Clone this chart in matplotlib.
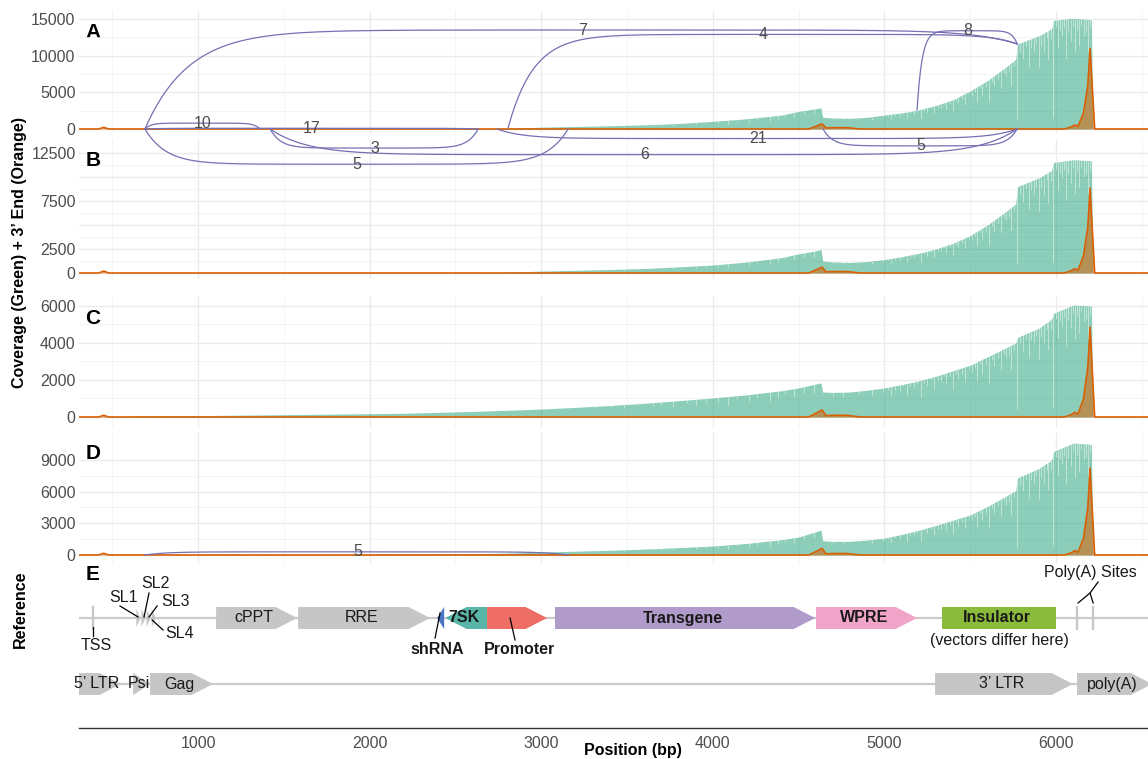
"""Stacked coverage tracks (A-D) with splice-junction arcs over a vector map (E)."""

import numpy as np
import matplotlib

matplotlib.use("Agg")
import matplotlib.pyplot as plt  # noqa: E402
from matplotlib.patches import Polygon  # noqa: E402
from matplotlib.ticker import MultipleLocator  # noqa: E402

plt.rcParams["font.family"] = ["Liberation Sans", "DejaVu Sans"]

W, H = 1148, 759
X_LEFT_PX, X_RIGHT_PX = 79, 1187
XLIM = (306, 6763)

GREEN = "#1B9E77"
ORANGE = "#D95F02"
ARC_COLOR = "#7570B3"
TXT = "#4D4D4D"
GREY = "#C6C6C6"
LINE_GREY = "#CFCACA"

# ---- coverage (green), shared positions ----
POS = [300, 2200, 2600, 2700, 2800, 3000, 3200, 3400, 3600, 3800,
       4000, 4200, 4400, 4500, 4600, 4630, 4640, 4700, 4800, 4900,
       5000, 5100, 5200, 5300, 5400, 5500, 5600, 5700, 5765, 5775,
       5900, 5975, 5985, 6100, 6200, 6206, 6214, 6760]
COV_A = [0, 0, 0, 60, 100, 250, 350, 450, 560, 750,
         1050, 1400, 1900, 2400, 2750, 2900, 1600, 1500, 1450, 1600,
         1900, 2200, 2600, 3200, 4000, 5200, 6600, 8300, 9500, 11600,
         12700, 13700, 14800, 15100, 14900, 14800, 0, 0]
COV_B = [0, 0, 0, 40, 80, 200, 280, 370, 470, 640,
         830, 1150, 1600, 2000, 2300, 2450, 1250, 1150, 1100, 1200,
         1400, 1700, 2050, 2500, 3100, 3900, 5000, 6300, 7200, 9000,
         9900, 10700, 11500, 11800, 11700, 11600, 0, 0]
COV_C = [0, 200, 300, 330, 360, 430, 520, 620, 740, 880,
         1030, 1200, 1420, 1570, 1780, 1840, 1350, 1330, 1350, 1450,
         1570, 1750, 1950, 2200, 2500, 2800, 3250, 3700, 4000, 4300,
         4800, 5300, 5600, 6050, 6000, 5950, 0, 0]
COV_D = [0, 60, 120, 150, 180, 280, 360, 450, 560, 700,
         850, 1100, 1450, 1700, 2200, 2370, 1350, 1300, 1300, 1420,
         1600, 1950, 2350, 2800, 3300, 3800, 4600, 5500, 6100, 7300,
         8200, 9000, 9800, 10600, 10500, 10400, 0, 0]

# ---- 3' end counts (orange) ----
END_POS = [300, 420, 450, 480, 4560, 4636, 4660, 4700, 4780, 4860,
           6050, 6090, 6110, 6128, 6160, 6185, 6198, 6225, 6760]
END_A = [0, 0, 220, 0, 0, 700, 150, 180, 180, 0, 0, 300, 550, 350, 2200, 6000, 11000, 0, 0]
END_B = [0, 0, 200, 0, 0, 600, 120, 150, 150, 0, 0, 250, 450, 300, 1800, 4800, 8850, 0, 0]
END_C = [0, 0, 90, 0, 0, 380, 70, 90, 90, 0, 0, 130, 250, 160, 1000, 2700, 4860, 0, 0]
END_D = [0, 0, 160, 0, 0, 620, 110, 140, 140, 0, 0, 220, 420, 270, 1600, 4500, 8240, 0, 0]

# single-base coverage dips (fraction of local depth lost)
NOTCH_POS = [3320, 3410, 3480, 3560, 3650, 3700, 3770, 3850, 3900, 3960,
             4030, 4090, 4140, 4210, 4260, 4330, 4380, 4420, 4470, 4530,
             4590, 4700, 4760, 4850, 4930, 4990, 5020, 5040, 5060, 5090,
             5110, 5130, 5150, 5170, 5190, 5210, 5230, 5250, 5270, 5290,
             5310, 5330, 5345, 5360, 5380, 5400, 5415, 5430, 5450, 5470,
             5490, 5510, 5525, 5540, 5555, 5570, 5590, 5610, 5625, 5640,
             5660, 5680, 5695, 5710, 5725, 5740, 5755, 5775, 5790, 5810,
             5825, 5840, 5855, 5870, 5885, 5900, 5915, 5930, 5945, 5955,
             5970, 5985, 5998, 6010, 6022, 6035, 6048, 6060, 6072, 6085,
             6098, 6110, 6122, 6135, 6148, 6160, 6172, 6185, 6195]
NOTCH_DEPTH = [0.2, 0.15, 0.3, 0.1, 0.25, 0.2, 0.35, 0.15, 0.3, 0.2,
               0.25, 0.4, 0.15, 0.3, 0.2, 0.35, 0.25, 0.15, 0.3, 0.2,
               0.25, 0.15, 0.2, 0.1, 0.25, 0.15, 0.08, 0.3, 0.12, 0.2,
               0.06, 0.35, 0.1, 0.15, 0.08, 0.45, 0.1, 0.2, 0.07, 0.3,
               0.12, 0.15, 0.06, 0.25, 0.1, 0.4, 0.08, 0.2, 0.12, 0.3,
               0.07, 0.15, 0.1, 0.35, 0.06, 0.25, 0.12, 0.45, 0.08, 0.2,
               0.1, 0.3, 0.07, 0.15, 0.12, 0.35, 0.08, 0.9, 0.1, 0.2,
               0.06, 0.3, 0.1, 0.15, 0.08, 0.35, 0.12, 0.2, 0.07, 0.3,
               0.1, 0.9, 0.06, 0.25, 0.1, 0.15, 0.08, 0.35, 0.12, 0.2,
               0.07, 0.3, 0.1, 0.25, 0.06, 0.15, 0.12, 0.3, 0.08]

# ---- junctions: donor, acceptor, anchor heights, arc peak, read count ----
ARC_A_START = [690, 690, 690, 2806, 5190, 1420, 1420, 690, 2742, 4642]
ARC_A_END = [1361, 2632, 5773, 5773, 5773, 2632, 5773, 3156, 5773, 5773]
ARC_A_Y0 = [0, 0, 0, 100, 2600, 0, 0, 0, 0, 0]
ARC_A_Y1 = [0, 0, 11600, 11600, 11600, 0, 0, 0, 0, 0]
ARC_A_PEAK = [800, 100, 13500, 12900, 13400, -2600, -3500, -4800, -1300, -2300]
ARC_A_LABEL = ["10", "17", "7", "4", "8", "3", "6", "5", "21", "5"]

ARC_D_START = [690]
ARC_D_END = [3160]
ARC_D_Y0 = [0]
ARC_D_Y1 = [0]
ARC_D_PEAK = [300]
ARC_D_LABEL = ["5"]

# ---- vector map ----
FEAT_NAME = ["cPPT", "RRE", "shRNA", "7SK", "Promoter", "Transgene", "WPRE",
             "Insulator", "5\u2019 LTR", "Psi", "Gag", "3\u2019 LTR", "poly(A)"]
FEAT_START = [1105, 1583, 2393, 2440, 2684, 3080, 4601, 5336, 300, 621, 720, 5295, 6122]
FEAT_END = [1577, 2352, 2434, 2684, 3034, 4596, 5190, 6000, 551, 720, 1087, 6099, 6560]
FEAT_STRAND = [1, 1, -1, -1, 1, 1, 1, 0, 1, 1, 1, 1, 1]
FEAT_ROW = [1, 1, 1, 1, 1, 1, 1, 1, 2, 2, 2, 2, 2]
FEAT_COLOR = [GREY, GREY, "#4A74C6", "#5AB5A9", "#EE6D65", "#B09BCB", "#F0A4C8",
              "#8BBB3B", GREY, GREY, GREY, GREY, GREY]
FEAT_BOLD = [False, False, True, True, True, True, True, True,
             False, False, False, False, False]
FEAT_INLINE = [True, True, False, True, False, True, True, True,
               True, True, True, True, True]
SL_POS = [640, 670, 700, 730]
SL_NAMES = ["SL1", "SL2", "SL3", "SL4"]
TSS_POS = 388
POLYA_SITES = [6122, 6216]

# track panels: top/bottom in px, y range, major breaks and their labels, minor breaks
PANELS = [
    ("A", COV_A, END_A, 11, 133, (-545, 16091),
     [0, 5000, 10000, 15000], ["0", "5000", "10000", "15000"], [2500, 7500, 12500]),
    ("B", COV_B, END_B, 139, 279, (-625, 13958),
     [0, 2500, 5000, 7500, 10000, 12500], ["0", "2500", "", "7500", "", "12500"],
     [1250, 3750, 6250, 8750, 11250]),
    ("C", COV_C, END_C, 297, 427, (-541, 6486),
     [0, 2000, 4000, 6000], ["0", "2000", "4000", "6000"], [1000, 3000, 5000]),
    ("D", COV_D, END_D, 433, 563, (-758, 11558),
     [0, 3000, 6000, 9000], ["0", "3000", "6000", "9000"], [1500, 4500, 7500]),
]


def _rect(top, bottom):
    return [X_LEFT_PX / W, 1 - bottom / H, (X_RIGHT_PX - X_LEFT_PX) / W, (bottom - top) / H]


def _arc(x0, x1, y0, y1, peak, tau=0.05, n=300):
    """Flat-topped junction arc anchored at (x0, y0) and (x1, y1)."""
    s = np.linspace(0, 1, n)
    y = peak - (peak - y0) * np.exp(-s / tau) - (peak - y1) * np.exp(-(1 - s) / tau)
    return x0 + (x1 - x0) * s, y


def _draw_arcs(ax, starts, ends, y0s, y1s, peaks, labels):
    for x0, x1, y0, y1, pk, lab in zip(starts, ends, y0s, y1s, peaks, labels):
        xs, ys = _arc(x0, x1, y0, y1, pk)
        ax.plot(xs, ys, color=ARC_COLOR, lw=0.9, zorder=5, clip_on=False)
        mid = len(xs) // 2
        ax.text(xs[mid], ys[mid], lab, ha="center", va="center", fontsize=11.5,
                color=TXT, zorder=6, clip_on=False)


def _track(fig, letter, cov, ends, top, bottom, ylim, majors, labels, minors):
    ax = fig.add_axes(_rect(top, bottom))
    ax.set_facecolor("none")
    ax.set_xlim(*XLIM)
    ax.set_ylim(*ylim)
    ax.xaxis.set_major_locator(MultipleLocator(1000))
    ax.xaxis.set_minor_locator(MultipleLocator(500))
    ax.set_yticks(majors, labels)
    ax.set_yticks(minors, minor=True)
    ax.grid(which="major", color="#EBEBEB", lw=1.0)
    ax.grid(which="minor", color="#F2F2F2", lw=0.6)
    ax.set_axisbelow(True)
    ax.tick_params(which="both", length=0)
    ax.tick_params(axis="x", labelbottom=False)
    ax.tick_params(axis="y", labelsize=11.5, labelcolor=TXT, pad=2.5)
    for sp in ax.spines.values():
        sp.set_visible(False)

    ax.fill_between(POS, 0, cov, color=GREEN, alpha=0.5, lw=0, zorder=2)
    tops = np.interp(NOTCH_POS, POS, cov)
    low = tops * (1 - np.array(NOTCH_DEPTH))
    ax.vlines(NOTCH_POS, low, tops, colors="white", lw=0.55, alpha=0.6, zorder=2.5)
    ax.fill_between(END_POS, 0, ends, color=ORANGE, alpha=0.55, lw=0, zorder=3)
    ax.plot(END_POS, ends, color=ORANGE, lw=1.2, zorder=3.5)

    fig.text(93 / W, 1 - (top + 21) / H, letter, fontsize=15, fontweight="bold",
             ha="center", va="center")
    return ax


def _gene(ax, start, end, strand, yc, color, half=11, head=125):
    hl = min(head, end - start)
    if strand > 0:
        pts = [(start, yc - half), (end - hl, yc - half), (end, yc),
               (end - hl, yc + half), (start, yc + half)]
    elif strand < 0:
        pts = [(end, yc - half), (start + hl, yc - half), (start, yc),
               (start + hl, yc + half), (end, yc + half)]
    else:
        pts = [(start, yc - half), (end, yc - half), (end, yc + half), (start, yc + half)]
    ax.add_patch(Polygon(pts, closed=True, facecolor=color, edgecolor="none", zorder=3))


def _leader(ax, pts):
    xs, ys = zip(*pts)
    ax.plot(xs, ys, color="black", lw=0.9, zorder=4)


def _reference(fig):
    ax = fig.add_axes(_rect(565, 728))
    ax.set_facecolor("none")
    ax.set_xlim(*XLIM)
    ax.set_ylim(0, 163)
    for name in ("top", "left", "right"):
        ax.spines[name].set_visible(False)
    ax.spines["bottom"].set_color("#333333")
    ax.spines["bottom"].set_linewidth(1.0)
    ax.set_xticks([1000, 2000, 3000, 4000, 5000, 6000])
    ax.set_yticks([])
    ax.tick_params(axis="x", length=0, pad=5.5, labelsize=11.5, labelcolor=TXT)

    row_y = {1: 110, 2: 44}
    for y in row_y.values():
        ax.axhline(y, color=LINE_GREY, lw=1.6, zorder=1)

    for name, s, e, st, row, col, bold, inline in zip(
            FEAT_NAME, FEAT_START, FEAT_END, FEAT_STRAND, FEAT_ROW,
            FEAT_COLOR, FEAT_BOLD, FEAT_INLINE):
        yc = row_y[row]
        _gene(ax, s, e, st, yc, col)
        if inline:
            ax.text((s + e) / 2 - 15, yc, name, ha="center", va="center",
                    fontsize=11.5, fontweight="bold" if bold else "normal",
                    color="#1A1A1A", zorder=5)

    # stem loops
    for p in SL_POS:
        _gene(ax, p, p + 24, 1, 110, GREY, half=9)
    sl_text = [(563, 131), (749, 144), (866, 126), (895, 94)]
    sl_lines = [[(545, 122), (650, 111)], [(714, 135), (685, 111)],
                [(761, 122), (714, 111)], [(796, 98), (732, 108)]]
    for nm, (tx, ty), ln in zip(SL_NAMES, sl_text, sl_lines):
        ax.text(tx, ty, nm, ha="center", va="center", fontsize=11.5, color="#1A1A1A")
        _leader(ax, ln)

    # TSS
    ax.plot([TSS_POS, TSS_POS], [99, 121], color=GREY, lw=1.6, zorder=2)
    _leader(ax, [(TSS_POS, 101), (TSS_POS, 92)])
    ax.text(406, 82, "TSS", ha="center", va="center", fontsize=11.5, color="#1A1A1A")

    # shRNA / promoter callouts
    _leader(ax, [(2410, 115), (2381, 90)])
    ax.text(2393, 79, "shRNA", ha="center", va="center", fontsize=11.5,
            fontweight="bold", color="#1A1A1A")
    _leader(ax, [(2818, 110), (2847, 88)])
    ax.text(2871, 79, "Promoter", ha="center", va="center", fontsize=11.5,
            fontweight="bold", color="#1A1A1A")

    ins = FEAT_NAME.index("Insulator")
    ax.text((FEAT_START[ins] + FEAT_END[ins]) / 2, 87, "(vectors differ here)",
            ha="center", va="center", fontsize=11.5, color="#1A1A1A")

    # poly(A) sites
    for p in POLYA_SITES:
        ax.plot([p, p], [99, 121], color=GREY, lw=1.6, zorder=2)
    _leader(ax, [(6245, 146), (6198, 135), (6128, 125)])
    _leader(ax, [(6198, 135), (6216, 125)])
    ax.text(6198, 156, "Poly(A) Sites", ha="center", va="center", fontsize=11.5,
            color="#1A1A1A", clip_on=False)

    fig.text(93 / W, 1 - 575 / H, "E", fontsize=15, fontweight="bold",
             ha="center", va="center")
    return ax


def main():
    fig = plt.figure(figsize=(W / 100, H / 100), dpi=100)

    axes = {}
    for spec in PANELS:
        axes[spec[0]] = _track(fig, *spec)
    axes["A"].set_zorder(5)
    axes["D"].set_zorder(4)

    _draw_arcs(axes["A"], ARC_A_START, ARC_A_END, ARC_A_Y0, ARC_A_Y1, ARC_A_PEAK, ARC_A_LABEL)
    _draw_arcs(axes["D"], ARC_D_START, ARC_D_END, ARC_D_Y0, ARC_D_Y1, ARC_D_PEAK, ARC_D_LABEL)

    _reference(fig)

    fig.text(20 / W, 1 - 252 / H, "Coverage (Green) + 3\u2019 End (Orange)", rotation=90,
             fontsize=11.5, fontweight="bold", ha="center", va="center")
    fig.text(20 / W, 1 - 609 / H, "Reference", rotation=90,
             fontsize=11.5, fontweight="bold", ha="center", va="center")
    fig.text(633 / W, 1 - 751 / H, "Position (bp)", fontsize=11.5,
             fontweight="bold", ha="center", va="center")

    fig.savefig("out.png", dpi=100)
    plt.close(fig)


if __name__ == "__main__":
    main()
